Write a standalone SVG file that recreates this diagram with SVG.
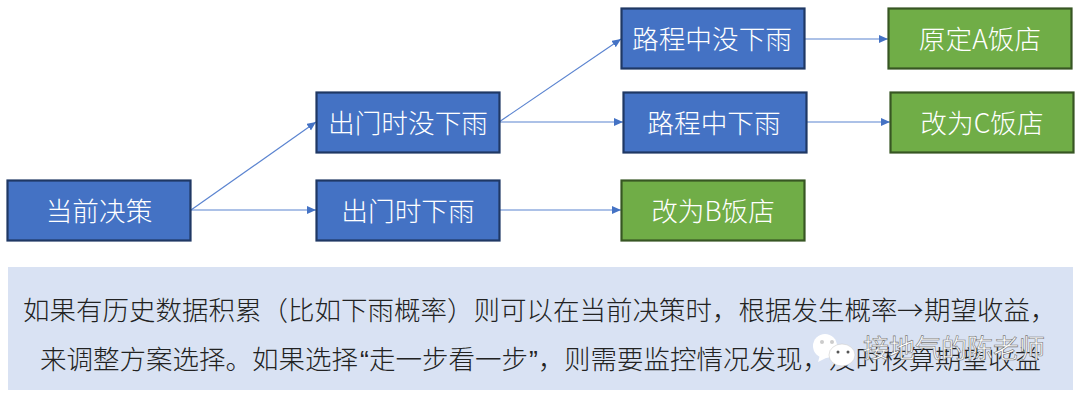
<svg xmlns="http://www.w3.org/2000/svg" width="1080" height="400" viewBox="0 0 1080 400">
<style>
text{font-family:"Noto Sans CJK SC","Liberation Sans",sans-serif}
.n{stroke-width:2.2}
.b{fill:#4472c4;stroke:#1f3864}
.g{fill:#70ad47;stroke:#375623}
.t{fill:#fff;font-size:26.670px;text-anchor:middle;dominant-baseline:central;font-weight:300}
.c{stroke:#5b84d0;stroke-width:1.2;fill:none;marker-end:url(#a)}
.p{fill:#222;font-size:26.500px;font-weight:300}
.q{font-family:"Liberation Sans",sans-serif}
</style>
<defs><marker id="a" markerUnits="userSpaceOnUse" markerWidth="10" markerHeight="9" refX="9" refY="4" orient="auto"><path d="M0 0L9 4L0 8Z" fill="#4472c4"/></marker></defs>
<rect width="1080" height="400" fill="#fff"/>
<g id="connectors">
<path class="c" d="M191 210L316 122"/>
<path class="c" d="M191 210L316 210"/>
<path class="c" d="M499 122L621 39"/>
<path class="c" d="M499 122L623 122"/>
<path class="c" d="M499 210L621 210"/>
<path class="c" d="M804 39L888 39"/>
<path class="c" d="M806 122L890 122"/>
</g>
<g id="n1"><rect class="n b" x="7.500" y="180.500" width="183" height="60"/><text class="t" x="99" y="209">当前决策</text></g>
<g id="n2"><rect class="n b" x="316.500" y="92.500" width="183" height="60"/><text class="t" x="408" y="121">出门时没下雨</text></g>
<g id="n3"><rect class="n b" x="316.500" y="180.500" width="183" height="60"/><text class="t" x="408" y="209">出门时下雨</text></g>
<g id="n4"><rect class="n b" x="621.500" y="8.500" width="183" height="60"/><text class="t" x="712" y="37">路程中没下雨</text></g>
<g id="n5"><rect class="n b" x="623.500" y="92.500" width="183" height="60"/><text class="t" x="714" y="121">路程中下雨</text></g>
<g id="n7"><rect class="n g" x="888.500" y="8.500" width="183" height="60"/><text class="t" x="980" y="37">原定A饭店</text></g>
<g id="n8"><rect class="n g" x="890.500" y="92.500" width="183" height="60"/><text class="t" x="982" y="121">改为C饭店</text></g>
<g id="n9"><rect class="n g" x="621.500" y="180.500" width="183" height="60"/><text class="t" x="713" y="209">改为B饭店</text></g>
<rect x="8" y="267" width="1065" height="123" fill="#d9e2f3"/>
<text class="p" x="23" y="320">如果有历史数据积累（比如下雨概率）则可以在当前决策时，根据发生概率<tspan x="897">→</tspan><tspan x="924">期望收益，</tspan></text>
<text class="p" x="40" y="369">来调整方案选择。如果选择<tspan class="q" x="360">“</tspan><tspan x="369">走一步看一步</tspan><tspan class="q" x="529">”</tspan><tspan x="538">，</tspan><tspan x="564">则需要监控情况发现，及时核算期望收益</tspan></text>
<g id="watermark">
<ellipse cx="825" cy="346" rx="12" ry="12" fill="#fff"/>
<path d="M820 355L818 362L828 357Z" fill="#fff"/>
<ellipse cx="842" cy="355" rx="13" ry="11" fill="#fff" stroke="#ccc" stroke-width=".6"/>
<circle cx="822" cy="342" r="2" fill="#ccc"/><circle cx="832" cy="342" r="2" fill="#ccc"/>
<circle cx="838" cy="352" r="1.500" fill="#555"/><circle cx="848" cy="352" r="1.500" fill="#555"/>
<text x="863" y="358" font-size="26" fill="#fff" stroke="#777" stroke-width=".6">接地气的陈老师</text>
</g>
</svg>
